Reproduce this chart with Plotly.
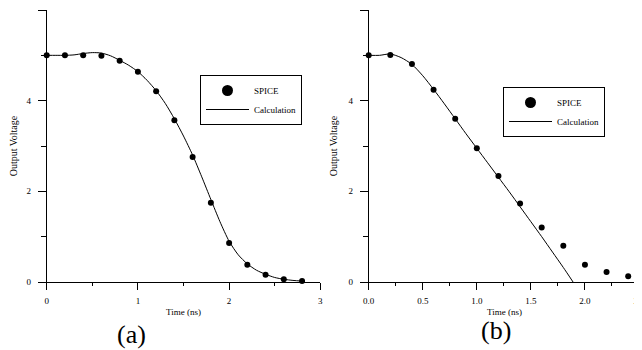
import plotly.graph_objects as go

# ---- Data ----
spice_a_t = [0.0, 0.2, 0.4, 0.6, 0.8, 1.0, 1.2, 1.4, 1.6, 1.8, 2.0, 2.2, 2.4, 2.6, 2.8]
spice_a_v = [5.0, 5.0, 5.0, 4.99, 4.88, 4.64, 4.21, 3.57, 2.76, 1.75, 0.86, 0.38, 0.16, 0.06, 0.02]
calc_a_t = [0.0, 0.1, 0.2, 0.3, 0.4, 0.5, 0.6, 0.7, 0.8, 0.9, 1.0, 1.1, 1.2, 1.3, 1.4,
            1.5, 1.6, 1.7, 1.8, 1.9, 2.0, 2.1, 2.2, 2.3, 2.4, 2.5, 2.6, 2.7, 2.8]
calc_a_v = [5.0, 5.0, 5.0, 5.01, 5.04, 5.06, 5.05, 4.99, 4.89, 4.78, 4.64, 4.45, 4.22, 3.94, 3.6,
            3.22, 2.8, 2.32, 1.82, 1.33, 0.9, 0.6, 0.4, 0.26, 0.17, 0.1, 0.06, 0.035, 0.02]

spice_b_t = [0.0, 0.2, 0.4, 0.6, 0.8, 1.0, 1.2, 1.4, 1.6, 1.8, 2.0, 2.2, 2.4]
spice_b_v = [5.0, 5.01, 4.81, 4.24, 3.6, 2.95, 2.34, 1.73, 1.2, 0.8, 0.38, 0.22, 0.125]
calc_b_t = [0.0, 0.1, 0.2, 0.3, 0.4, 0.5, 0.6, 0.7, 0.8, 0.9, 1.0, 1.1, 1.2, 1.3, 1.4,
            1.5, 1.6, 1.7, 1.8, 1.89]
calc_b_v = [5.0, 5.0, 5.03, 4.95, 4.8, 4.55, 4.25, 3.93, 3.6, 3.27, 2.95, 2.63, 2.31, 1.99, 1.66,
            1.33, 1.0, 0.66, 0.32, 0.0]

panel_labels = ["(a)", "(b)"]
x_title = "Time (ns)"
y_title = "Output Voltage"
series_names = ["SPICE", "Calculation"]

W, H = 642, 350
FONT = "Liberation Serif"
OFF = 8  # page body margin


def fx(px):
    return (px - OFF) / W


def fy(py):
    return 1 - (py - OFF) / H


fig = go.Figure()

panels = [
    ("x", "y", "legend", spice_a_t, spice_a_v, calc_a_t, calc_a_v),
    ("x2", "y2", "legend2", spice_b_t, spice_b_v, calc_b_t, calc_b_v),
]
for xa, ya, lg, st, sv, ct, cv in panels:
    # legend entries (no data drawn)
    fig.add_trace(go.Scatter(x=[None], y=[None], mode="markers", name=series_names[0],
                             marker=dict(color="black", size=11),
                             xaxis=xa, yaxis=ya, legend=lg, showlegend=True))
    fig.add_trace(go.Scatter(x=ct, y=cv, mode="lines", name=series_names[1],
                             line=dict(color="black", width=1, shape="spline", smoothing=0.7),
                             xaxis=xa, yaxis=ya, legend=lg, cliponaxis=False, showlegend=True))
    fig.add_trace(go.Scatter(x=st, y=sv, mode="markers", name=series_names[0],
                             marker=dict(color="black", size=6),
                             xaxis=xa, yaxis=ya, legend=lg, cliponaxis=False, showlegend=False))

y_top, y_bot = 10, 282
common_axis = dict(showline=True, linecolor="black", linewidth=1, showgrid=False,
                   zeroline=False, ticks="outside", tickcolor="black", tickwidth=1,
                   automargin=False,
                   tickfont=dict(family=FONT, size=9, color="black"))

legend_common = dict(xanchor="left", yanchor="top", bordercolor="black", borderwidth=1,
                     bgcolor="white", itemsizing="trace", itemwidth=43, traceorder="normal",
                     tracegroupgap=0,
                     font=dict(family=FONT, size=9, color="black"))

fig.update_layout(
    template="none",
    width=W, height=H,
    margin=dict(l=0, r=0, t=0, b=0, pad=0),
    paper_bgcolor="white", plot_bgcolor="white",
    font=dict(family=FONT, size=9, color="black"),
    xaxis=dict(domain=[fx(46.7), fx(320.3)], range=[0, 3], tickvals=[0, 1, 2, 3],
               ticklen=7, anchor="y", ticklabelstandoff=3,
               minor=dict(tickvals=[0.5, 1.5, 2.5], ticklen=3, ticks="outside", tickcolor="black"),
               **common_axis),
    yaxis=dict(domain=[fy(y_bot), fy(y_top)], range=[0, 6], tickvals=[0, 2, 4, 6],
               ticklen=8, anchor="x", ticklabelstandoff=5,
               minor=dict(tickvals=[1, 3, 5], ticklen=5, ticks="outside", tickcolor="black"),
               **common_axis),
    xaxis2=dict(domain=[fx(368.7), fx(639)], range=[0, 2.5],
                tickvals=[0, 0.5, 1.0, 1.5, 2.0, 2.5], tickformat=".1f",
                ticklen=7, anchor="y2", ticklabelstandoff=3,
                minor=dict(tickvals=[0.25, 0.75, 1.25, 1.75, 2.25], ticklen=3, ticks="outside", tickcolor="black"),
                **common_axis),
    yaxis2=dict(domain=[fy(y_bot), fy(y_top)], range=[0, 6], tickvals=[0, 2, 4, 6],
                ticklen=8, anchor="x2", ticklabelstandoff=5,
                minor=dict(tickvals=[1, 3, 5], ticklen=5, ticks="outside", tickcolor="black"),
                **common_axis),
    legend=dict(x=fx(200), y=fy(75), **legend_common),
    legend2=dict(x=fx(503), y=fy(87), **legend_common),
    showlegend=True,
)

ann_common = dict(xref="paper", yref="paper", showarrow=False,
                  xanchor="center", yanchor="middle")

# axis titles
for cx in (183.3, 504):
    fig.add_annotation(text=x_title, x=fx(cx), y=fy(311.5),
                       font=dict(family=FONT, size=9, color="black"), **ann_common)
for cx in (13.3, 333.3):
    fig.add_annotation(text=y_title, x=fx(cx), y=fy(146), textangle=-90,
                       font=dict(family=FONT, size=10, color="black"), **ann_common)

# panel labels
fig.add_annotation(text=panel_labels[0], x=fx(131.7), y=fy(334),
                   font=dict(family=FONT, size=26, color="black"), **ann_common)
fig.add_annotation(text=panel_labels[1], x=fx(496), y=fy(330),
                   font=dict(family=FONT, size=26, color="black"), **ann_common)

fig.write_html("out.html")
